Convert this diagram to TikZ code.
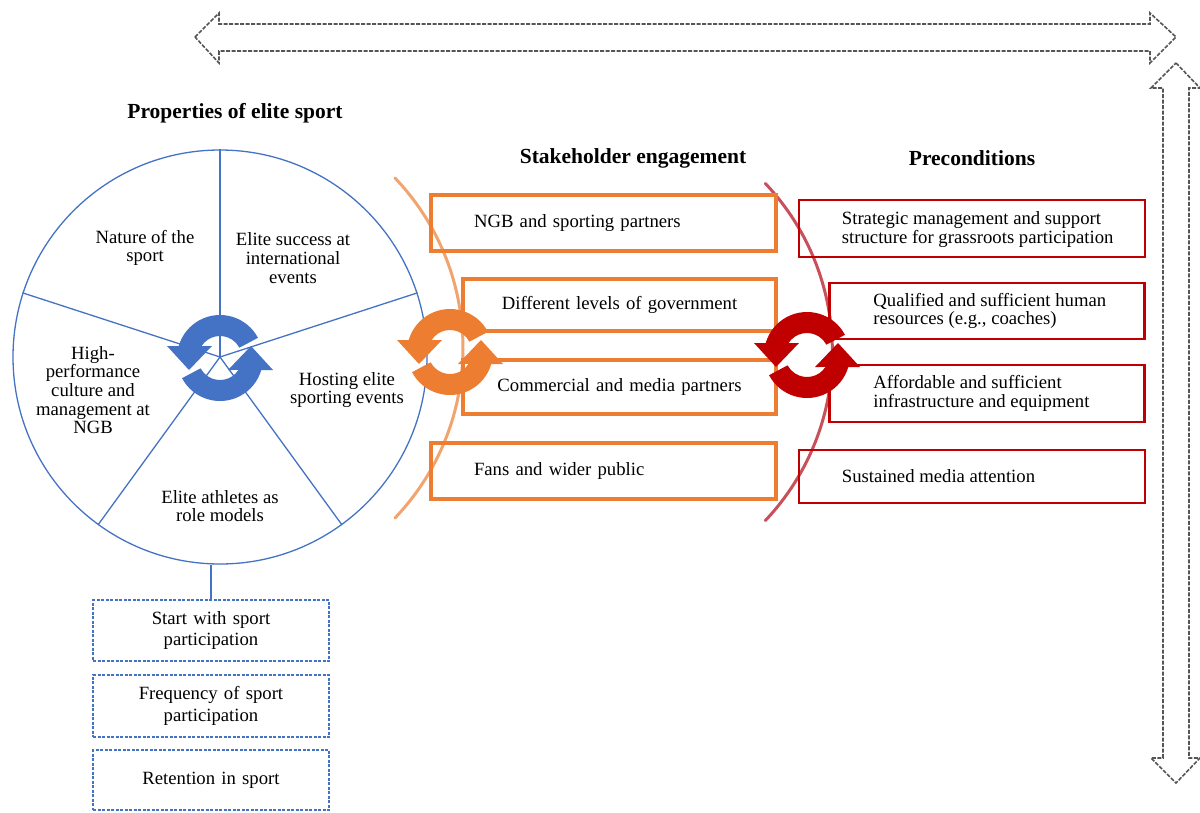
\documentclass[tikz,border=0pt]{standalone}
\usepackage{fontspec}
\setmainfont{Liberation Serif}
\definecolor{myblue}{HTML}{4472C4}
\definecolor{myorange}{HTML}{ED7D31}
\definecolor{orangearc}{HTML}{F2A46F}
\definecolor{myred}{HTML}{C00000}
\definecolor{redarc}{HTML}{C8505A}
\definecolor{arrowgray}{HTML}{555555}
\tikzset{
  body/.style={font=\fontsize{18.7pt}{18.7pt}\selectfont},
  head/.style={font=\fontsize{21.5pt}{22pt}\selectfont\bfseries},
  obox/.style={draw=myorange, line width=3.6pt, rectangle, inner ysep=0pt, body},
  rbox/.style={draw=myred, line width=2.6pt, rectangle, inner sep=0pt},
  rtext/.style={body, align=left, anchor=west, inner sep=0pt},
  dbox/.style={draw=myblue, line width=1.3pt, dash pattern=on 3pt off 1.5pt, rectangle,
    minimum width=236pt, text width=220pt, inner xsep=8pt, align=center,
    font=\fontsize{18.7pt}{21.5pt}\selectfont},
  fatarrow/.style={draw=arrowgray, line width=1.6pt, dash pattern=on 4pt off 1.5pt, fill=white},
  cyc/.pic={
    \fill (28:43pt) arc[start angle=28,end angle=163.8,radius=43pt] -- (-53pt,12pt) -- (-31pt,-12pt)
      -- (-8pt,12pt) -- (147:22pt) arc[start angle=147,end angle=28,radius=22pt] -- cycle;
    \fill[rotate=180] (28:43pt) arc[start angle=28,end angle=163.8,radius=43pt] -- (-53pt,12pt) -- (-31pt,-12pt)
      -- (-8pt,12pt) -- (147:22pt) arc[start angle=147,end angle=28,radius=22pt] -- cycle;
  }
}
\begin{document}
\begin{tikzpicture}[x=1pt,y=-1pt]
\useasboundingbox (0,0) rectangle (1200,812);
% big double arrows
\draw[fatarrow] (195,37) -- (219,13) -- (219,24) -- (1150,24) -- (1150,13) -- (1176,37)
  -- (1150,63) -- (1150,51) -- (219,51) -- (219,63) -- cycle;
\draw[fatarrow] (1176,63) -- (1200,88) -- (1189,88) -- (1189,758) -- (1200,758) -- (1176,783)
  -- (1151,758) -- (1163,758) -- (1163,88) -- (1151,88) -- cycle;
% headings
\node[head] (h1) at (235,113) {Properties of elite sport};
\node[head] (h2) at (633,158) {Stakeholder engagement};
\node[head] (h3) at (972,158) {Preconditions};
% wheel
\node[draw=myblue, line width=1.3pt, circle, minimum size=414pt, inner sep=0pt] (wheel) at (220,357) {};
\foreach \a in {90,18,162,-54,-126} \draw[myblue, line width=1.3pt] (wheel.center) -- (wheel.\a);
\node[body, align=center] (w1) at (145,248) {Nature of the\\sport};
\node[body, align=center] (w2) at (293,258) {Elite success at\\international\\events};
\node[body, align=center] (w3) at (93,390) {High-\\performance\\culture and\\management at\\NGB};
\node[body, align=center] (w4) at (347,390) {Hosting elite\\sporting events};
\node[body, align=center] (w5) at (220,506) {Elite athletes as\\role models};
% dashed boxes
\node[dbox, minimum height=61pt] (d1) at (211,630.5) {Start with sport\\participation};
\node[dbox, minimum height=62pt] (d2) at (211,706) {Frequency of sport\\participation};
\node[dbox, minimum height=60pt] (d3) at (211,780) {Retention in sport};
\draw[myblue, line width=1.3pt] (d1.north) -- (d1.north |- wheel.south);
% arcs
\draw[orangearc, line width=3pt, line cap=round] (216.5,348) ++(43.6:246.5pt) arc[start angle=43.6, end angle=-43.6, radius=246.5pt];
\draw[redarc, line width=3pt, line cap=round] (587,352) ++(43.4:245.4pt) arc[start angle=43.4, end angle=-43.4, radius=245.4pt];
% orange boxes
\node[obox, minimum width=345pt, minimum height=56pt, text width=259pt, inner xsep=43pt, align=left] (o1) at (603.5,223) {NGB and sporting partners};
\node[obox, minimum width=313pt, minimum height=52pt, text width=293pt, inner xsep=10pt, align=center] (o2) at (619.5,305) {Different levels of government};
\node[obox, minimum width=313pt, minimum height=54pt, text width=293pt, inner xsep=10pt, align=center] (o3) at (619.5,387) {Commercial and media partners};
\node[obox, minimum width=345pt, minimum height=56pt, text width=259pt, inner xsep=43pt, align=left] (o4) at (603.5,471) {Fans and wider public};
% red boxes
\node[rbox, minimum width=346pt, minimum height=57pt] (r1) at (972,228.5) {};
\node[rbox, minimum width=315pt, minimum height=56pt] (r2) at (987,311) {};
\node[rbox, minimum width=315pt, minimum height=57pt] (r3) at (987,393.5) {};
\node[rbox, minimum width=346pt, minimum height=53pt] (r4) at (972,476.5) {};
\node[rtext] (r1t) at ([xshift=44pt,yshift=-1pt]r1.west) {Strategic management and support\\structure for grassroots participation};
\node[rtext] (r2t) at ([xshift=45pt]r2.west) {Qualified and sufficient human\\resources (e.g., coaches)};
\node[rtext] (r3t) at ([xshift=45pt]r3.west) {Affordable and sufficient\\infrastructure and equipment};
\node[rtext] (r4t) at ([xshift=44pt]r4.west) {Sustained media attention};
% cycle icons
\pic[myblue] (c1) at (220,358) {cyc};
\pic[myorange] (c2) at (450,352) {cyc};
\pic[myred] (c3) at (807,355) {cyc};
\end{tikzpicture}
\end{document}
